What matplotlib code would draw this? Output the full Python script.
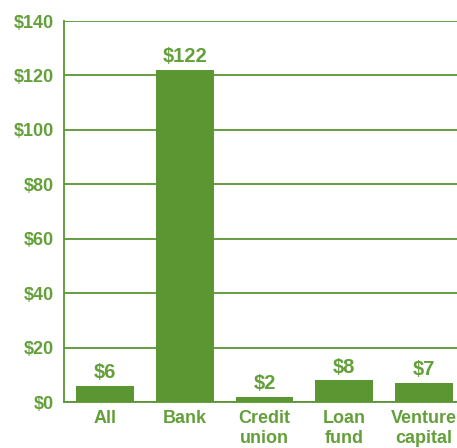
import matplotlib
matplotlib.use("Agg")
import matplotlib.pyplot as plt

categories = ["All", "Bank", "Credit\nunion", "Loan\nfund", "Venture\ncapital"]
values = [6, 122, 2, 8, 7]
value_labels = ["$6", "$122", "$2", "$8", "$7"]
yticks = [0, 20, 40, 60, 80, 100, 120, 140]
ytick_labels = ["$0", "$20", "$40", "$60", "$80", "$100", "$120", "$140"]

green = "#5b9632"
text_green = "#64a03a"

plt.rcParams['font.family'] = ['Liberation Sans', 'DejaVu Sans']

fig = plt.figure(figsize=(4.57, 4.48), dpi=100)
ax = fig.add_axes([64/457, 1-402/448, 1-64/457, (402-21)/448])

x = list(range(len(categories)))
ax.bar(x, values, width=0.725, color=green, zorder=3)
for xi, v, lab in zip(x, values, value_labels):
    ax.text(xi, v + 1.3, lab, ha="center", va="bottom", color=text_green,
            fontsize=14.5, fontweight="bold")

ax.set_xlim(-0.51, 4.41)
ax.set_ylim(0, 140)
ax.set_yticks(yticks)
ax.set_yticklabels(ytick_labels)
ax.set_xticks(x)
ax.set_xticklabels(categories, linespacing=1.2, va="top")
ax.yaxis.grid(True, color=green, linewidth=1.3, zorder=0)
ax.tick_params(axis="both", length=0, labelcolor=text_green, labelsize=13)
ax.tick_params(axis="y", pad=7)
ax.tick_params(axis="x", pad=6)
for lab in ax.get_xticklabels() + ax.get_yticklabels():
    lab.set_fontweight("bold")
for s in ["top", "right"]:
    ax.spines[s].set_visible(False)
for s in ["left", "bottom"]:
    ax.spines[s].set_color(green)
    ax.spines[s].set_linewidth(1.3)

fig.savefig("out.png", dpi=100)
